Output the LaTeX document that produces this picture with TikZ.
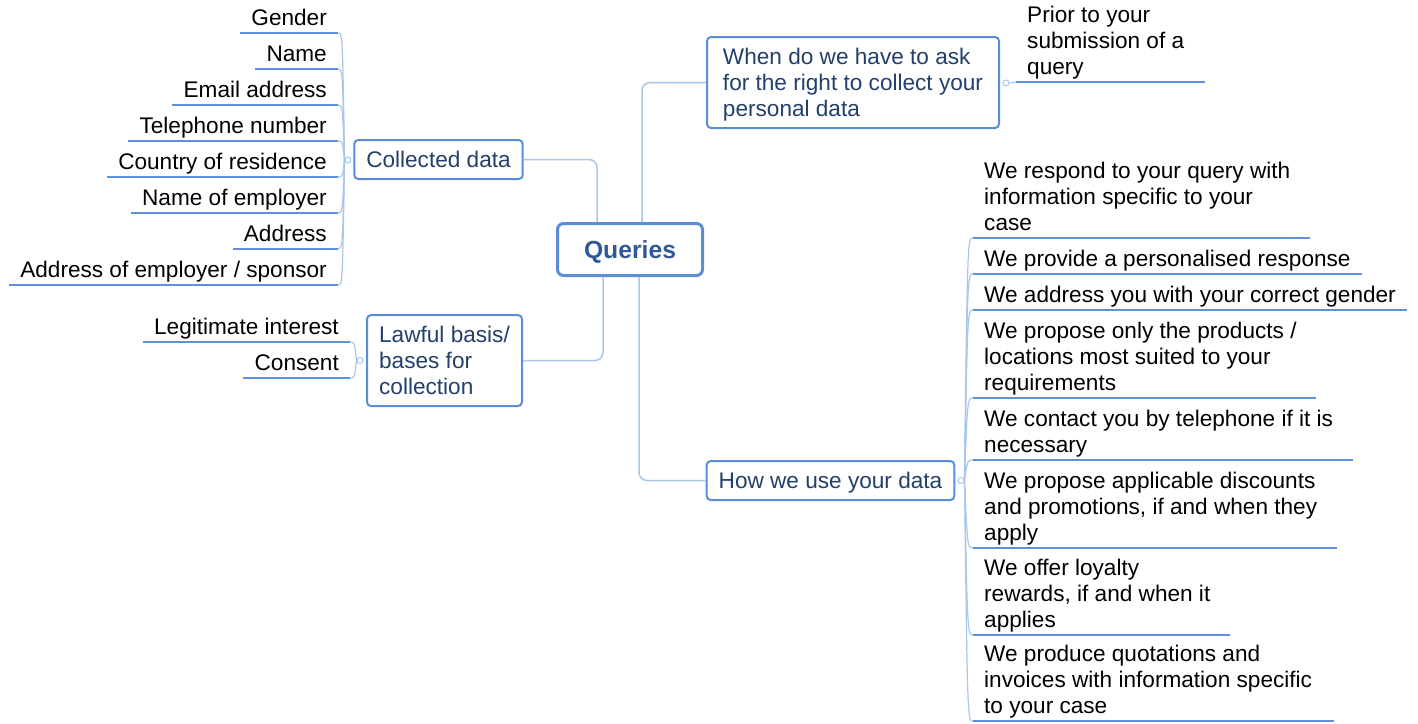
\documentclass[tikz,border=0pt]{standalone}
\usepackage{fontspec}
\setmainfont{Liberation Sans}
\usetikzlibrary{calc}
\definecolor{boxblue}{HTML}{5B8DD6}
\definecolor{navy}{HTML}{22406A}
\definecolor{qblue}{HTML}{2F5A96}
\definecolor{linkblue}{HTML}{A9C6EC}
\definecolor{ulblue}{HTML}{5F90D8}
\newcommand{\MLl}[1]{\begin{tabular}[b]{@{}l@{}}#1\end{tabular}}
\newcommand{\MLr}[1]{\begin{tabular}[b]{@{}r@{}}#1\end{tabular}}
\newcommand{\MLc}[1]{\raisebox{-3pt}[\height][\depth]{\begin{tabular}{@{}l@{}}#1\end{tabular}}}
\tikzset{
  txt/.style={font=\fontsize{22.6}{26}\selectfont},
  topic/.style={txt, draw=boxblue, line width=2pt, rounded corners=4pt, fill=white, text=navy, inner xsep=12pt, inner ysep=6.5pt},
  central/.style={draw=boxblue, line width=3pt, rounded corners=6pt, fill=white, text=qblue, font=\fontsize{24.7}{28}\selectfont\bfseries, minimum width=145pt, minimum height=52pt},
  leaf/.style={txt, text=black, inner xsep=11pt, inner ysep=0pt},
  uline/.style={draw=ulblue, line width=2pt},
  link/.style={draw=linkblue, line width=1.5pt, rounded corners=8pt},
  twig/.style={draw=linkblue, line width=1.2pt},
  hub/.style={circle, draw=linkblue, fill=white, line width=1pt, minimum size=6pt, inner sep=0pt},
}
\begin{document}
\begin{tikzpicture}[x=1pt,y=-1pt]
\useasboundingbox (0,0) rectangle (1418,723);

% central and topics
\node[central] (q) at (630,249.5) {\raisebox{-2.5pt}[\height][\depth]{Queries}};
\node[topic, minimum width=167pt, minimum height=37pt] (cd) at (438.5,159.5) {\MLc{Collected data}};
\node[topic, minimum width=155pt, minimum height=89pt] (lb) at (444.5,360.5) {\MLc{Lawful basis/\\bases for\\collection}};
\node[topic, minimum width=292pt, minimum height=89pt] (wh) at (853,82.5) {\MLc{When do we have to ask\\for the right to collect your\\personal data}};
\node[topic, minimum width=247pt, minimum height=37pt] (hw) at (830.5,480.5) {\MLc{How we use your data}};

% hubs
\node[hub] (hc) at (348,160) {};
\node[hub] (hl) at (360,360.5) {};
\node[hub] (hq) at (1006,83) {};
\node[hub] (hh) at (961,480.5) {};

% main links
\draw[link] ($(q.north)+(-33,0)$) |- (cd.east);
\draw[link] ($(q.north)+(12,0)$) |- (wh.west);
\draw[link] ($(q.south)+(-27,0)$) |- (lb.east);
\draw[link] ($(q.south)+(9,0)$) |- (hw.west);

% left leaves: collected data
\node[leaf, anchor=south east] (c1) at (338,33) {\MLr{Gender}};
\node[leaf, anchor=south east] (c2) at (338,69) {\MLr{Name}};
\node[leaf, anchor=south east] (c3) at (338,105) {\MLr{Email address}};
\node[leaf, anchor=south east] (c4) at (338,141) {\MLr{Telephone number}};
\node[leaf, anchor=south east] (c5) at (338,177) {\MLr{Country of residence}};
\node[leaf, anchor=south east] (c6) at (338,213) {\MLr{Name of employer}};
\node[leaf, anchor=south east] (c7) at (338,249) {\MLr{Address}};
\node[leaf, anchor=south east] (c8) at (338,285) {\MLr{Address of employer / sponsor}};
\foreach \n in {c1,c2,c3,c4,c5,c6,c7,c8}{
  \draw[twig] (hc.west) .. controls ($(hc.west |- \n.south east)+(-2,0)$) .. (\n.south east);
  \draw[uline] (\n.south west) -- (\n.south east);
}

% left leaves: lawful basis
\node[leaf, anchor=south east] (b1) at (350,342) {\MLr{Legitimate interest}};
\node[leaf, anchor=south east] (b2) at (350,378) {\MLr{Consent}};
\foreach \n in {b1,b2}{
  \draw[twig] (hl.west) .. controls ($(hl.west |- \n.south east)+(-2,0)$) .. (\n.south east);
  \draw[uline] (\n.south west) -- (\n.south east);
}

% top right leaf
\node[leaf, anchor=south west] (p1) at (1016,82) {\MLl{Prior to your\\submission of a\\query}};
\draw[twig] (hq.east) -- (p1.south west);
\draw[uline] (p1.south west) -- ($(p1.south east)+(10,0)$);

% right leaves: how we use your data
\node[leaf, anchor=south west] (r1) at (973,238) {\MLl{We respond to your query with\\information specific to your\\case}};
\node[leaf, anchor=south west] (r2) at (973,274) {\MLl{We provide a personalised response}};
\node[leaf, anchor=south west] (r3) at (973,310) {\MLl{We address you with your correct gender}};
\node[leaf, anchor=south west] (r4) at (973,398) {\MLl{We propose only the products /\\locations most suited to your\\requirements}};
\node[leaf, anchor=south west] (r5) at (973,460) {\MLl{We contact you by telephone if it is\\necessary}};
\node[leaf, anchor=south west] (r6) at (973,548) {\MLl{We propose applicable discounts\\and promotions, if and when they\\apply}};
\node[leaf, anchor=south west] (r7) at (973,635) {\MLl{We offer loyalty\\rewards, if and when it\\applies}};
\node[leaf, anchor=south west] (r8) at (973,721) {\MLl{We produce quotations and\\invoices with information specific\\to your case}};
\foreach \n/\e in {r1/8,r2/0,r3/0,r4/8,r5/9,r6/9,r7/8,r8/11}{
  \draw[twig] (hh.east) .. controls ($(hh.east |- \n.south west)+(3,0)$) .. (\n.south west);
  \draw[uline] (\n.south west) -- ($(\n.south east)+(\e,0)$);
}
\end{tikzpicture}
\end{document}
